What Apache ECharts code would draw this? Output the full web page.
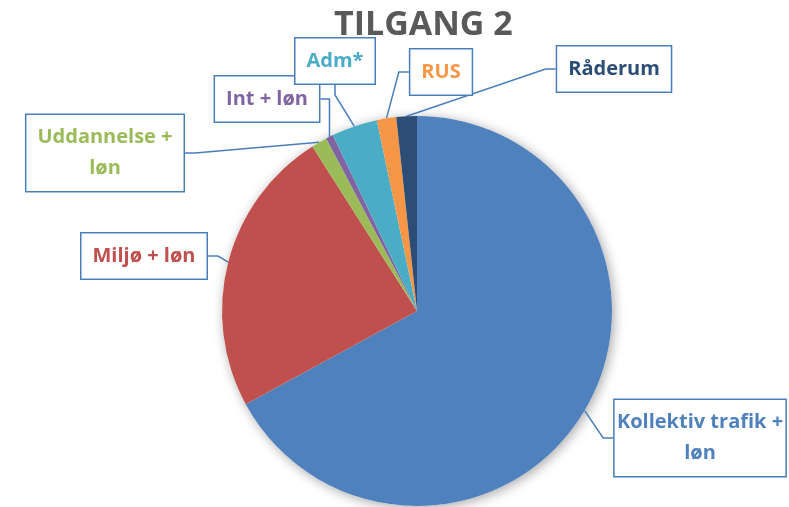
<!DOCTYPE html>
<html>
<head>
<meta charset="utf-8">
<script src="https://cdn.jsdelivr.net/npm/echarts@6/dist/echarts.min.js"></script>
<style>
  html, body { margin: 0; padding: 0; background: #fff; }
  #chart { width: 789px; height: 507px; }
</style>
</head>
<body>
<div id="chart"></div>
<script>
// fordeling af tilgang, i procent
var names = ['Kollektiv trafik +\nløn', 'Miljø + løn', 'Uddannelse +\nløn', 'Int + løn', 'Adm*', 'RUS', 'Råderum']
var values = [67.0, 23.9, 1.3, 0.6, 3.8, 1.6, 1.7]
var colors = ['#4f81bd', '#c0504d', '#9bbb59', '#8064a2', '#4bacc6', '#f79646', '#2c4d75']

// hvor etiketterne står (midten af boksen)
var labelPos = [[700, 438], [144, 256], [105, 153], [267, 99], [335, 61], [441, 72], [614, 69]]

var chart = echarts.init(document.getElementById('chart'))

var pieData = []
for (var i = 0; i < names.length; i++) {
  pieData.push({
    name: names[i],
    value: values[i],
    itemStyle: { color: colors[i] },
    label: { color: colors[i] }
  })
}

var option = {
  animation: false,
  title: {
    text: 'TILGANG 2',
    left: 329,
    top: 3,
    textStyle: { fontFamily: 'Open Sans', fontSize: 34, fontWeight: 'bold', color: '#595959' }
  },
  series: [
    {
      // kun skygge bag lagkagen
      type: 'pie',
      silent: true,
      center: [417, 311],
      radius: 195,
      z: 1,
      label: { show: false },
      labelLine: { show: false },
      itemStyle: { color: '#fff', shadowBlur: 12, shadowColor: 'rgba(0,0,0,0.35)', shadowOffsetX: 2, shadowOffsetY: 2 },
      data: [{ value: 1, name: '' }]
    },
    {
      type: 'pie',
      center: [417, 311],
      radius: 195,
      startAngle: 90,
      clockwise: true,
      z: 2,
      itemStyle: { borderWidth: 0 },
      label: {
        show: true,
        position: 'outside',
        overflow: 'none',
        fontFamily: 'Open Sans',
        fontSize: 20,
        fontWeight: 'bold',
        lineHeight: 31,
        align: 'center',
        backgroundColor: '#fff',
        borderColor: '#4a7ebb',
        borderWidth: 1.5,
        padding: [7, 11]
      },
      labelLine: {
        show: true,
        length: 10,
        length2: 10,
        lineStyle: { color: '#4a7ebb', width: 1.5 }
      },
      labelLayout: function (params) {
        var p = labelPos[params.dataIndex]
        return { x: p[0], y: p[1], align: 'center', verticalAlign: 'middle' }
      },
      data: pieData
    }
  ]
}

chart.setOption(option)
</script>
</body>
</html>
